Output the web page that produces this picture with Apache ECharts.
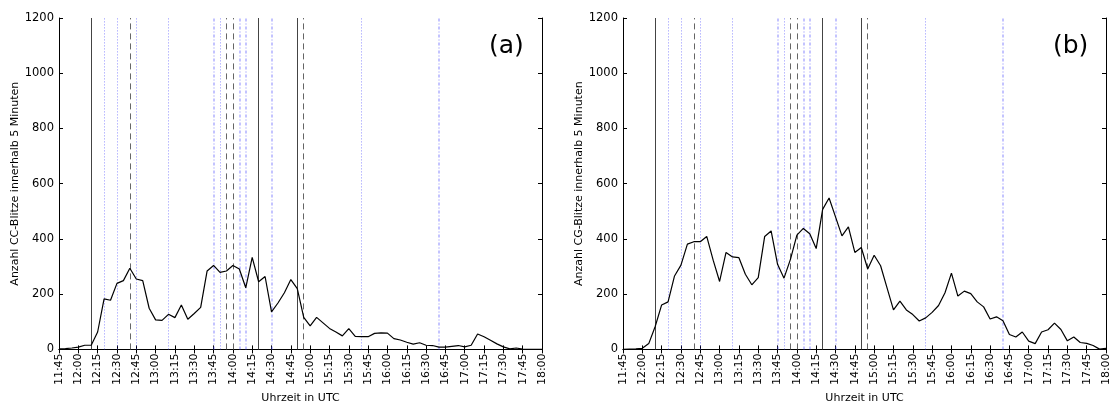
<!DOCTYPE html>
<html>
<head>
<meta charset="utf-8">
<script src="https://cdn.jsdelivr.net/npm/echarts@6/dist/echarts.min.js"></script>
<style>
html,body{margin:0;padding:0;background:#fff;}
#chart{width:1115px;height:409px;}
</style>
</head>
<body>
<div id="chart"></div>
<script>
// 5-minute time categories
const times = ['11:45','11:50','11:55',
 '12:00','12:05','12:10','12:15','12:20','12:25','12:30','12:35','12:40','12:45','12:50','12:55',
 '13:00','13:05','13:10','13:15','13:20','13:25','13:30','13:35','13:40','13:45','13:50','13:55',
 '14:00','14:05','14:10','14:15','14:20','14:25','14:30','14:35','14:40','14:45','14:50','14:55',
 '15:00','15:05','15:10','15:15','15:20','15:25','15:30','15:35','15:40','15:45','15:50','15:55',
 '16:00','16:05','16:10','16:15','16:20','16:25','16:30','16:35','16:40','16:45','16:50','16:55',
 '17:00','17:05','17:10','17:15','17:20','17:25','17:30','17:35','17:40','17:45','17:50','17:55',
 '18:00'];

// Panel (a): CC lightning per 5 minutes
const ccCounts = [2,3,5,8,15,15,
 63,183,178,239,249,294,255,249,
 149,107,105,127,115,161,109,130,152,
 284,304,279,284,304,291,223,333,245,264,136,168,205,253,220,116,
 85,116,96,76,63,49,75,47,46,46,58,60,59,39,34,26,19,24,15,14,8,8,11,14,9,15,56,46,33,20,9,2,5,1,0,0,0];

// Panel (b): CG lightning per 5 minutes
const cgCounts = [0,1,2,4,21,83,161,172,266,305,381,390,390,409,323,246,351,335,332,272,
 234,260,409,429,308,258,326,414,438,419,365,507,548,480,411,444,351,
 369,291,341,303,223,143,175,143,126,103,114,134,159,205,276,193,211,202,172,154,
 110,118,104,54,45,63,30,21,63,71,95,72,31,45,25,22,14,1,4];

// Event marker times
const solidTimes = ['12:10','14:20','14:50'];
const grayDashTimes = ['12:40','13:55','14:00','14:55'];
const blueDotTimes = ['12:20','12:30','12:45','13:10','13:50','15:40'];
const blueDashDotTimes = ['13:45','14:05','14:10','14:30','16:40'];

const yTicks = [0, 1200, 200]; // min, max, interval
const yNames = ['Anzahl CC-Blitze innerhalb 5 Minuten', 'Anzahl CG-Blitze innerhalb 5 Minuten'];
const xName = 'Uhrzeit in UTC';
const panelLabels = ['(a)', '(b)'];

const FONT = 'DejaVu Sans';
const chart = echarts.init(document.getElementById('chart'), null, {renderer:'canvas'});

const gridDefs = [
  {left:59, top:18, width:483, height:338},
  {left:623, top:18, width:483, height:338}
];

function markData() {
  const d = [];
  solidTimes.forEach(t => d.push({xAxis:t, lineStyle:{color:'#444', width:1, type:'solid'}}));
  grayDashTimes.forEach(t => d.push({xAxis:t, lineStyle:{color:'#666', width:1, type:[6,4]}}));
  blueDotTimes.forEach(t => d.push({xAxis:t, lineStyle:{color:'rgba(70,70,255,0.6)', width:1, type:[1,2]}}));
  blueDashDotTimes.forEach(t => d.push({xAxis:t, lineStyle:{color:'rgba(90,90,255,0.45)', width:1.6, type:[3,2,1,2]}}));
  return d;
}

const xAxes = [], yAxes = [], series = [];
[ccCounts, cgCounts].forEach((vals, p) => {
  xAxes.push({
    type:'category', gridIndex:p, data:times, boundaryGap:false, position:'bottom',
    axisLine:{show:true, lineStyle:{color:'#000', width:1}},
    axisTick:{show:true, inside:true, length:4, interval:2, lineStyle:{color:'#000'}},
    axisLabel:{show:true, interval:2, rotate:90, fontFamily:FONT, fontSize:11, color:'#000', margin:4},
    splitLine:{show:false},
    name:xName, nameLocation:'middle', nameGap:40,
    nameTextStyle:{fontFamily:FONT, fontSize:11, color:'#000'}
  });
  xAxes.push({
    type:'category', gridIndex:p, data:times, boundaryGap:false, position:'top',
    axisLine:{show:true, lineStyle:{color:'#000', width:1}},
    axisTick:{show:true, inside:true, length:4, interval:2, lineStyle:{color:'#000'}},
    axisLabel:{show:false}, splitLine:{show:false}
  });
  yAxes.push({
    type:'value', gridIndex:p, min:yTicks[0], max:yTicks[1], interval:yTicks[2], position:'left',
    axisLine:{show:true, lineStyle:{color:'#000', width:1}},
    axisTick:{show:true, inside:true, length:4, lineStyle:{color:'#000'}},
    axisLabel:{fontFamily:FONT, fontSize:11.5, color:'#000', margin:5, formatter:v => String(v)},
    splitLine:{show:false},
    name:yNames[p], nameLocation:'middle', nameRotate:90, nameGap:31,
    nameTextStyle:{fontFamily:FONT, fontSize:11, color:'#000'}
  });
  yAxes.push({
    type:'value', gridIndex:p, min:yTicks[0], max:yTicks[1], interval:yTicks[2], position:'right',
    axisLine:{show:true, lineStyle:{color:'#000', width:1}},
    axisTick:{show:true, inside:true, length:4, lineStyle:{color:'#000'}},
    axisLabel:{show:false}, splitLine:{show:false}
  });
  series.push({
    type:'line', xAxisIndex:p*2, yAxisIndex:p*2, data:vals,
    showSymbol:false, symbol:'none', silent:true, animation:false,
    lineStyle:{color:'#000', width:1.2}, z:5,
    markLine:{silent:true, symbol:['none','none'], label:{show:false}, animation:false, data:markData()}
  });
});

chart.setOption({
  backgroundColor:'#fff',
  animation:false,
  grid:gridDefs,
  xAxis:xAxes,
  yAxis:yAxes,
  series:series,
  graphic:[
    {type:'text', left:489, top:34, style:{text:panelLabels[0], font:'25px "DejaVu Sans"', fill:'#000'}},
    {type:'text', left:1053, top:34, style:{text:panelLabels[1], font:'25px "DejaVu Sans"', fill:'#000'}}
  ]
});
</script>
</body>
</html>
